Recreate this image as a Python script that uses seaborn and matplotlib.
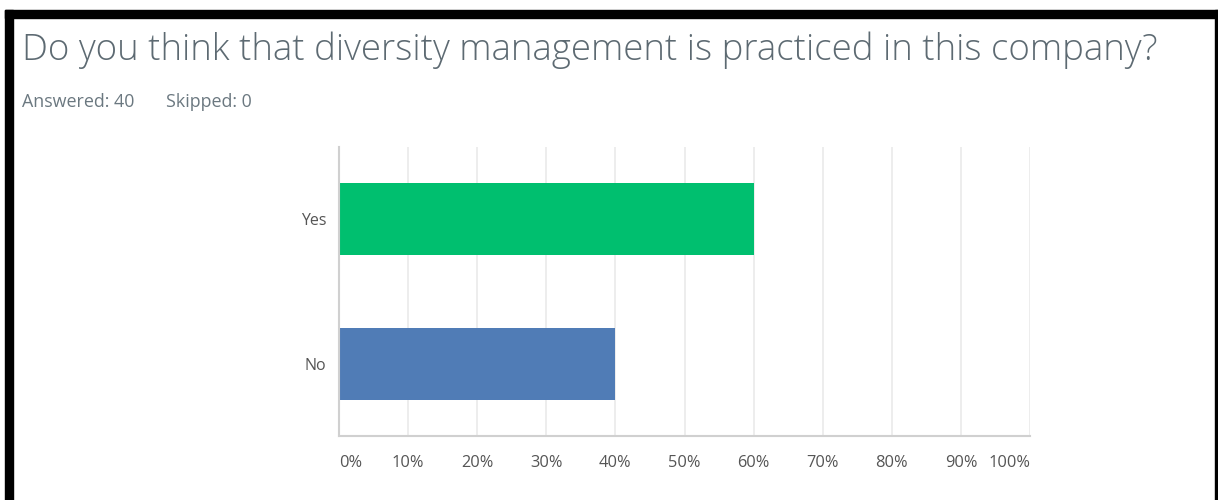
import matplotlib
matplotlib.use("Agg")
import matplotlib.pyplot as plt
import seaborn as sns
import pandas as pd
from matplotlib.patches import Rectangle

# Survey answers and share of respondents (%)
answers = ["Yes", "No"]
shares = [60, 40]
bar_colors = ["#00BF6F", "#507CB6"]
tick_values = [0, 10, 20, 30, 40, 50, 60, 70, 80, 90, 100]
tick_labels = [f"{v}%" for v in tick_values]

title = "Do you think that diversity management is practiced in this company?"
subtitle_left = "Answered: 40"
subtitle_right = "Skipped: 0"

sns.set_style("white")
plt.rcParams["font.family"] = ["Open Sans", "DejaVu Sans"]

df = pd.DataFrame({"answer": answers, "share": shares})

fig = plt.figure(figsize=(12.18, 5.0), dpi=100)
fig.patch.set_facecolor("white")

ax = fig.add_axes([339 / 1218, 64 / 500, 691 / 1218, 289 / 500])
sns.barplot(data=df, x="share", y="answer", hue="answer",
            palette=dict(zip(answers, bar_colors)), orient="h",
            width=0.5, legend=False, ax=ax, saturation=1,
            edgecolor="none")

ax.set_xlim(0, 100)
ax.set_ylim(1.5, -0.5)
ax.set_xticks(tick_values)
ax.set_xticklabels(tick_labels)
ax.set_xlabel("")
ax.set_ylabel("")
ax.grid(axis="x", color="#ececec", linewidth=1.3)
ax.set_axisbelow(True)
for side in ["top", "right"]:
    ax.spines[side].set_visible(False)
for side in ["left", "bottom"]:
    ax.spines[side].set_color("#d0d0d0")
    ax.spines[side].set_linewidth(1.5)
ax.tick_params(axis="x", length=0, pad=14, labelsize=11.8, labelcolor="#555555")
ax.tick_params(axis="y", length=0, pad=9, labelsize=11.5, labelcolor="#555555")
xt = ax.get_xticklabels()
xt[0].set_horizontalalignment("left")
xt[-1].set_horizontalalignment("right")

# Heading and response counts
fig.text(22 / 1218, 1 - 60 / 500, title, fontsize=26.4, color="#5d6a72",
         va="baseline", ha="left", fontweight="light")
fig.text(22 / 1218, 1 - 107 / 500, subtitle_left, fontsize=12.9, color="#6b7880",
         va="baseline", ha="left")
fig.text(166 / 1218, 1 - 107 / 500, subtitle_right, fontsize=12.9, color="#6b7880",
         va="baseline", ha="left")

# Black frame around the panel
frame = dict(transform=None, color="black", zorder=10)
fig.patches.append(Rectangle((5, 500 - 18), 1213, 8, **frame))
fig.patches.append(Rectangle((5, 0), 8, 500 - 10, **frame))
fig.patches.append(Rectangle((1215, 0), 3, 500 - 10, **frame))

fig.savefig("out.png", dpi=100, facecolor="white")
